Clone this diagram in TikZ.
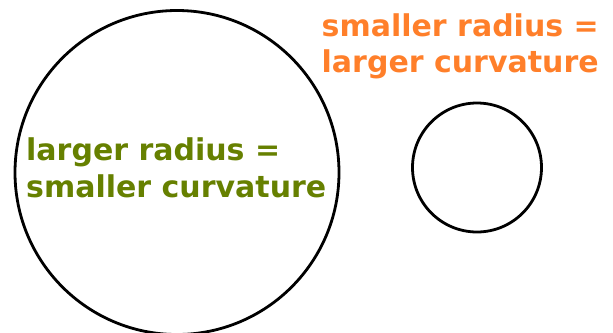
\documentclass[tikz,border=0pt]{standalone}
\usepackage{fontspec}
\setmainfont{DejaVu Sans}
\definecolor{lblorange}{HTML}{FF7F2A}
\definecolor{lblgreen}{HTML}{668000}
\begin{document}
\begin{tikzpicture}[x=1pt,y=-1pt,
  ring/.style={draw=black,line width=2.8pt},
  lbl/.style={anchor=base west,inner sep=0pt,font=\fontsize{30}{36}\selectfont\bfseries}]
\useasboundingbox (0,0) rectangle (613,332);
\draw[ring] (177,172.5) circle[radius=162];
\draw[ring] (477,167.5) circle[radius=64.5];
\node[lbl,text=lblorange] (o1) at (321.5,36) {smaller radius =};
\node[lbl,text=lblorange] (o2) at (321.5,72) {larger curvature};
\node[lbl,text=lblgreen] (g1) at (26,160.5) {larger radius =};
\node[lbl,text=lblgreen] (g2) at (26,197.5) {smaller curvature};
\end{tikzpicture}
\end{document}
